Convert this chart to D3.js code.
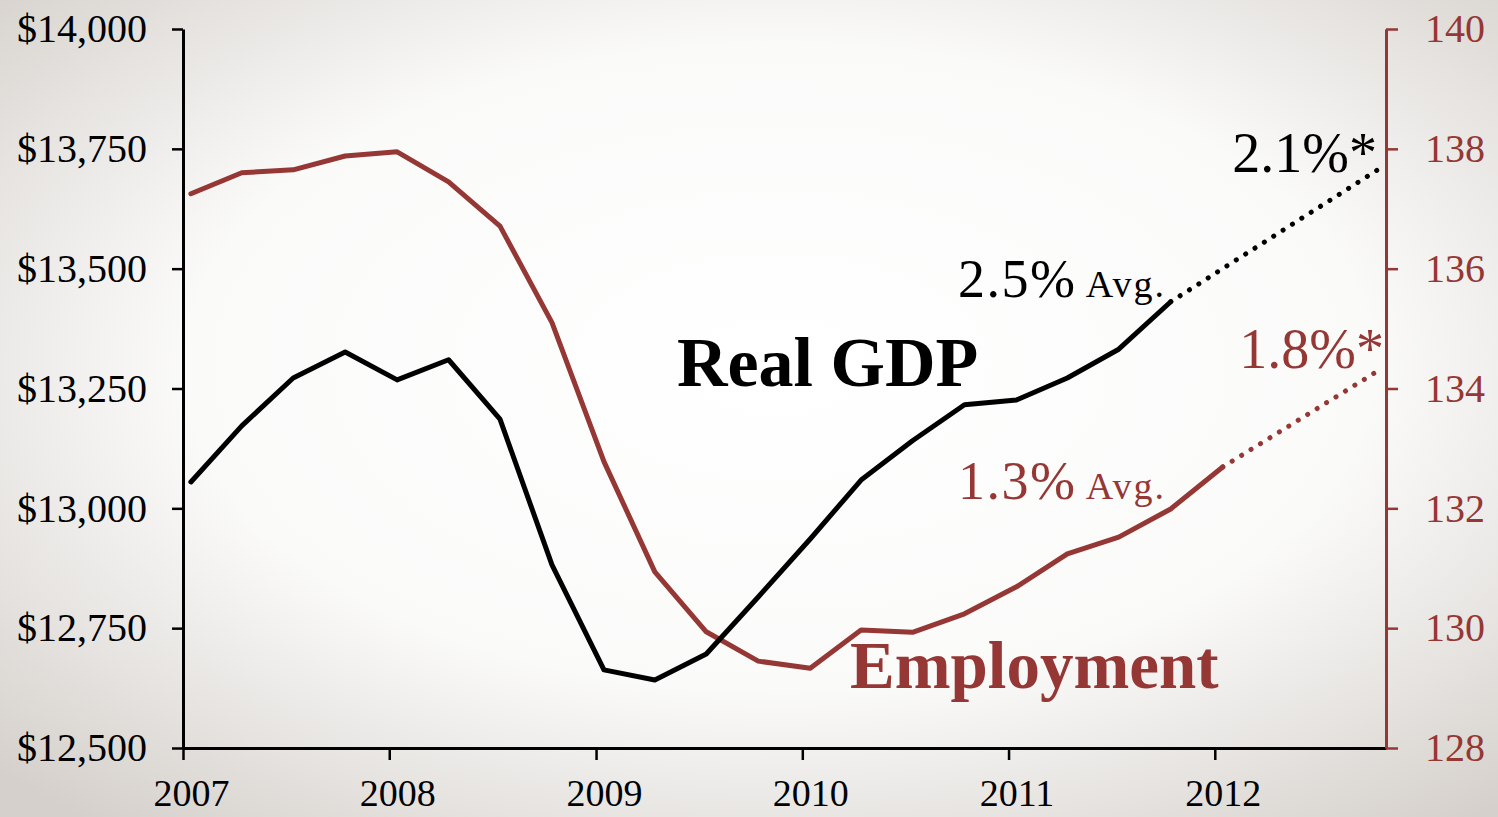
<!DOCTYPE html>
<html>
<head>
<meta charset="utf-8">
<script src="https://cdn.jsdelivr.net/npm/d3@7"></script>
<style>
  body { margin: 0; }
  svg { display: block; }
</style>
</head>
<body>
<script>
// quarterly data, 2007Q1 .. 2012Q1
const quarters = ['2007Q1', '2007Q2', '2007Q3', '2007Q4', '2008Q1', '2008Q2', '2008Q3', '2008Q4',
    '2009Q1', '2009Q2', '2009Q3', '2009Q4', '2010Q1', '2010Q2', '2010Q3', '2010Q4',
    '2011Q1', '2011Q2', '2011Q3', '2011Q4', '2012Q1']

// real GDP, billions of chained dollars (through 2011Q4)
const gdp = [13055, 13172, 13272, 13326, 13268, 13310, 13186, 12882,
    12663, 12642, 12696, 12815, 12936, 13059, 13141, 13216,
    13226, 13272, 13332, 13431]

// nonfarm employment, millions (through 2012Q1)
const employment = [137.25, 137.60, 137.65, 137.88, 137.95, 137.45, 136.71, 135.10,
    132.78, 130.94, 129.94, 129.45, 129.33, 129.97, 129.93, 130.24,
    130.69, 131.24, 131.52, 131.99, 132.69]

// projections (dotted)
const gdpProjection = [['2011Q4', 13431], ['2012Q4', 13706]]
const empProjection = [['2012Q1', 132.69], ['2012Q4', 134.29]]

const gdpTicks = [12500, 12750, 13000, 13250, 13500, 13750, 14000]
const empTicks = [128, 130, 132, 134, 136, 138, 140]
const yearTicks = [2007, 2008, 2009, 2010, 2011, 2012]

const width = 1498
const height = 817
const red = '#953735'
const serif = '"Liberation Serif", "DejaVu Serif", serif'
const tickFont = 40

function quarterDate(q) {
    const year = +q.slice(0, 4)
    const n = +q.slice(5)
    return new Date(year, (n - 1) * 3, 15)
}

const svg = d3.select('body').append('svg')
    .attr('width', width)
    .attr('height', height)
    .attr('viewBox', [0, 0, width, height])

// soft vignette background
const grad = svg.append('defs').append('radialGradient')
    .attr('id', 'bg')
    .attr('cx', '52%').attr('cy', '45%').attr('r', '72%')
grad.append('stop').attr('offset', '0%').attr('stop-color', '#ffffff')
grad.append('stop').attr('offset', '55%').attr('stop-color', '#fafaf9')
grad.append('stop').attr('offset', '100%').attr('stop-color', '#d5d0cb')
svg.append('rect')
    .attr('width', width).attr('height', height)
    .attr('fill', 'url(#bg)')

const x = d3.scaleTime()
    .domain([new Date(2007, 0, 1), new Date(2012, 9, 30)])
    .range([183, 1386])
const yL = d3.scaleLinear().domain([12500, 14000]).range([748, 29])
const yR = d3.scaleLinear().domain([128, 140]).range([748, 29])

// axes
const gx = svg.append('g')
    .attr('transform', `translate(0,${yL.range()[0]})`)
    .call(d3.axisBottom(x)
        .tickValues(yearTicks.map(y => new Date(y, 0, 1)))
        .tickFormat(d3.timeFormat('%Y'))
        .tickSize(12)
        .tickSizeOuter(0)
        .tickPadding(10))
gx.select('.domain').attr('stroke', '#000').attr('stroke-width', 3)
gx.selectAll('.tick line').attr('stroke', '#000').attr('stroke-width', 2.5)
gx.selectAll('.tick text')
    .attr('font-family', serif)
    .attr('font-size', 38)
    .attr('fill', '#000')
    .attr('x', d => x(new Date(d.getFullYear(), 0, 15)) - x(d))
    .attr('dy', '0.95em')

const gl = svg.append('g')
    .attr('transform', `translate(${x.range()[0]},0)`)
    .call(d3.axisLeft(yL)
        .tickValues(gdpTicks)
        .tickFormat(d => '$' + d3.format(',')(d))
        .tickSize(11)
        .tickSizeOuter(0)
        .tickPadding(25))
gl.select('.domain').attr('stroke', '#000').attr('stroke-width', 3)
gl.selectAll('.tick line').attr('stroke', '#000').attr('stroke-width', 2.5)
gl.selectAll('.tick text')
    .attr('font-family', serif)
    .attr('font-size', tickFont)
    .attr('fill', '#000')

const gr = svg.append('g')
    .attr('transform', `translate(${x.range()[1]},0)`)
    .call(d3.axisRight(yR)
        .tickValues(empTicks)
        .tickSize(12)
        .tickSizeOuter(0)
        .tickPadding(27))
gr.select('.domain').attr('stroke', red).attr('stroke-width', 3)
gr.selectAll('.tick line').attr('stroke', red).attr('stroke-width', 2.5)
gr.selectAll('.tick text')
    .attr('font-family', serif)
    .attr('font-size', tickFont)
    .attr('fill', red)

// series
const gdpLine = d3.line()
    .x((d, i) => x(quarterDate(quarters[i])))
    .y(d => yL(d))
const empLine = d3.line()
    .x((d, i) => x(quarterDate(quarters[i])))
    .y(d => yR(d))

svg.append('path')
    .attr('d', empLine(employment))
    .attr('fill', 'none')
    .attr('stroke', red)
    .attr('stroke-width', 5)
    .attr('stroke-linejoin', 'round')
    .attr('stroke-linecap', 'round')

svg.append('path')
    .attr('d', gdpLine(gdp))
    .attr('fill', 'none')
    .attr('stroke', '#000')
    .attr('stroke-width', 5)
    .attr('stroke-linejoin', 'round')
    .attr('stroke-linecap', 'round')

const projLine = scale => d3.line()
    .x(d => x(quarterDate(d[0])))
    .y(d => scale(d[1]))

svg.append('path')
    .attr('d', projLine(yL)(gdpProjection))
    .attr('fill', 'none')
    .attr('stroke', '#000')
    .attr('stroke-width', 5)
    .attr('stroke-linecap', 'round')
    .attr('stroke-dasharray', '0.1 11')

svg.append('path')
    .attr('d', projLine(yR)(empProjection))
    .attr('fill', 'none')
    .attr('stroke', red)
    .attr('stroke-width', 5)
    .attr('stroke-linecap', 'round')
    .attr('stroke-dasharray', '0.1 11')

// annotations
function label(xPos, yPos, parts, color, anchor) {
    const t = svg.append('text')
        .attr('x', xPos).attr('y', yPos)
        .attr('font-family', serif)
        .attr('fill', color)
        .attr('text-anchor', anchor || 'start')
    parts.forEach(p => {
        t.append('tspan')
            .attr('font-size', p.size)
            .attr('font-weight', p.bold ? 'bold' : 'normal')
            .attr('letter-spacing', p.spacing || 0)
            .text(p.text)
    })
    return t
}

label(677, 386, [{ text: 'Real GDP', size: 70, bold: true }], '#000')
label(850, 688, [{ text: 'Employment', size: 67, bold: true }], red)
label(1166, 297, [{ text: '2.5%', size: 54, spacing: 1.5 }, { text: ' Avg.', size: 38, spacing: 2 }], '#000', 'end')
label(1166, 499, [{ text: '1.3%', size: 54, spacing: 1.5 }, { text: ' Avg.', size: 38, spacing: 2 }], red, 'end')
label(1377, 172, [{ text: '2.1%*', size: 56 }], '#000', 'end')
label(1384, 368, [{ text: '1.8%*', size: 56 }], red, 'end')
</script>
</body>
</html>
